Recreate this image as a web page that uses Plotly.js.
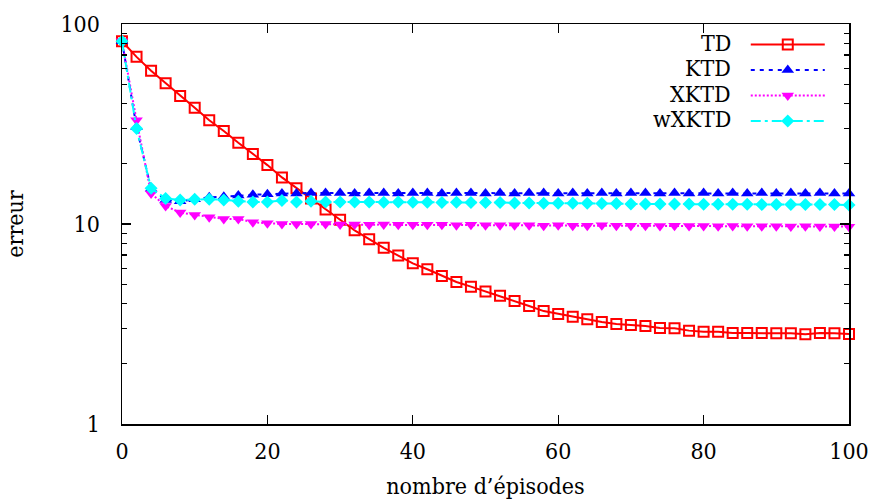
<!DOCTYPE html>
<html>
<head>
<meta charset="utf-8">
<script src="https://cdn.plot.ly/plotly-3.0.1.min.js"></script>
<style>
  html, body { margin: 0; padding: 0; background: #fff; }
  #chart { width: 872px; height: 500px; }
</style>
</head>
<body>
<div id="chart"></div>
<script>
// episodes 0..100, step 2
const episodes = [0,2,4,6,8,10,12,14,16,18,20,22,24,26,28,30,32,34,36,38,40,42,44,46,48,50,
  52,54,56,58,60,62,64,66,68,70,72,74,76,78,80,82,84,86,88,90,92,94,96,98,100];

const seriesNames = ["TD", "KTD", "XKTD", "wXKTD"];

const tdValues = [82,68.5,58.4,50.5,43.6,38.1,33.0,29.2,25.5,22.4,19.7,17.1,15.1,13.4,11.8,10.5,
  9.3,8.4,7.6,6.95,6.36,5.94,5.5,5.13,4.86,4.6,4.38,4.12,3.89,3.67,3.55,3.44,3.34,3.24,3.16,3.13,
  3.09,3.02,3.01,2.93,2.89,2.89,2.85,2.85,2.85,2.84,2.84,2.81,2.85,2.84,2.82];

const ktdValues = [82,30.5,15.0,13.2,13.0,13.3,13.6,13.7,13.9,14.0,14.1,14.2,14.2,14.3,14.3,14.3,
  14.2,14.3,14.3,14.2,14.3,14.3,14.2,14.3,14.3,14.2,14.3,14.2,14.3,14.3,14.2,14.3,14.2,14.3,14.2,
  14.3,14.3,14.2,14.3,14.2,14.3,14.2,14.3,14.2,14.3,14.2,14.3,14.2,14.3,14.2,14.2];

const xktdValues = [82,33,14.2,12.3,11.4,11.1,10.8,10.6,10.6,10.2,10.1,10.0,10.0,10.0,10.0,9.95,
  9.95,9.9,9.95,9.9,9.9,9.9,9.9,9.85,9.9,9.85,9.85,9.85,9.85,9.8,9.85,9.8,9.8,9.85,9.8,9.8,
  9.8,9.78,9.8,9.78,9.78,9.75,9.78,9.75,9.75,9.75,9.72,9.75,9.72,9.72,9.7];

const wxktdValues = [82,30,15.1,13.4,13.2,13.3,13.3,13.2,13.0,12.9,12.9,13.1,12.9,13.0,12.9,12.9,
  12.9,12.9,12.85,12.9,12.85,12.85,12.8,12.85,12.8,12.8,12.8,12.75,12.75,12.7,12.7,12.7,12.7,
  12.65,12.65,12.6,12.6,12.6,12.6,12.6,12.55,12.55,12.55,12.55,12.5,12.5,12.5,12.5,12.5,12.5,12.45];

const xTicks = [0,20,40,60,80,100];
const yTicks = [1,10,100];
const yMinorTicks = [2,3,4,5,6,7,8,9,20,30,40,50,60,70,80,90];

const serif = "DejaVu Serif Condensed";
const fs = 23;

const traces = [
  {
    x: episodes, y: tdValues, name: seriesNames[0], legendgroup: "g0", type: "scatter", mode: "lines+markers",
    line: {color: "#ff0000", width: 2, dash: "solid"},
    marker: {symbol: "square-open", size: 10, color: "#ff0000", line: {width: 2, color: "#ff0000"}},
    cliponaxis: false
  },
  {
    x: episodes, y: ktdValues, name: seriesNames[1], legendgroup: "g1", type: "scatter", mode: "lines+markers",
    line: {color: "#0000ff", width: 2, dash: "4px,5px"},
    marker: {symbol: "triangle-up", size: 11, color: "#0000ff", line: {width: 0}},
    cliponaxis: false
  },
  {
    x: episodes, y: xktdValues, name: seriesNames[2], legendgroup: "g2", type: "scatter", mode: "lines+markers",
    line: {color: "#ff00ff", width: 2, dash: "2px,2px"},
    marker: {symbol: "triangle-down", size: 11, color: "#ff00ff", line: {width: 0}},
    cliponaxis: false
  },
  {
    x: episodes, y: wxktdValues, name: seriesNames[3], legendgroup: "g3", type: "scatter", mode: "lines+markers",
    line: {color: "#00ffff", width: 2, dash: "10px,4px,3px,4px"},
    marker: {symbol: "diamond", size: 10, color: "#00ffff", line: {width: 0}},
    cliponaxis: false
  }
];

const legendRowsY = [0.9525, 0.889, 0.825, 0.762];
const annotations = seriesNames.map((n, i) => ({
  xref: "paper", yref: "paper", x: 0.8404, y: legendRowsY[i],
  xanchor: "right", yanchor: "middle", showarrow: false, text: n,
  font: {family: serif, size: fs, color: "#000"}
}));

const layout = {
  width: 872, height: 500,
  margin: {l: 122, r: 23, t: 24, b: 76, autoexpand: false},
  paper_bgcolor: "#fff", plot_bgcolor: "#fff",
  font: {family: serif, size: fs, color: "#000"},
  showlegend: true,
  legend: {
    x: 0.858, y: 0.985, xanchor: "left", yanchor: "top",
    bgcolor: "rgba(0,0,0,0)", borderwidth: 0,
    font: {family: serif, size: 1, color: "rgba(0,0,0,0)"},
    itemwidth: 74, tracegroupgap: 6.5
  },
  xaxis: {
    range: [0, 100], tickvals: xTicks, ticktext: xTicks.map(String),
    ticks: "inside", ticklen: 9, tickwidth: 1.2, tickcolor: "#000",
    showline: true, linecolor: "#000", linewidth: 1.5, mirror: "ticks",
    showgrid: false, zeroline: false, ticklabelstandoff: 6,
    tickfont: {family: serif, size: fs, color: "#000"},
    title: {text: "nombre d’épisodes", font: {family: serif, size: fs, color: "#000"}, standoff: 15}
  },
  yaxis: {
    type: "log", range: [0, 2], tickvals: yTicks, ticktext: yTicks.map(String),
    ticks: "inside", ticklen: 9, tickwidth: 1.2, tickcolor: "#000",
    showline: true, linecolor: "#000", linewidth: 1.5, mirror: "ticks",
    showgrid: false, zeroline: false, ticklabelstandoff: 16,
    tickfont: {family: serif, size: fs, color: "#000"},
    minor: {tickvals: yMinorTicks, ticks: "inside", ticklen: 5, tickwidth: 1.2, tickcolor: "#000", showgrid: false},
    title: {text: "erreur", font: {family: serif, size: fs, color: "#000"}, standoff: 30}
  },
  annotations: annotations
};

Plotly.newPlot("chart", traces, layout, {displayModeBar: false, staticPlot: true});
</script>
</body>
</html>
